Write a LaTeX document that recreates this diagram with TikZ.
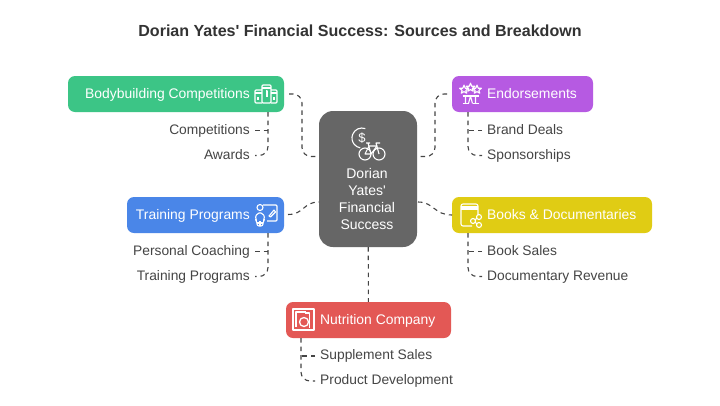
\documentclass[tikz,border=0pt]{standalone}
\usepackage{fontspec}
\setmainfont{Liberation Sans}[Ligatures=TeXOff]
\usetikzlibrary{positioning}
\definecolor{hubgray}{HTML}{666666}
\definecolor{leafgray}{HTML}{454545}
\definecolor{compgreen}{HTML}{3CC586}
\definecolor{endorsepurple}{HTML}{B65AE2}
\definecolor{trainblue}{HTML}{4A86E8}
\definecolor{bookyellow}{HTML}{E0CC14}
\definecolor{nutritionred}{HTML}{E35855}
\tikzset {
  % central node
  hub/.style = {
    fill = hubgray,
    rounded corners = 14pt,
    minimum width = 98pt,
    minimum height = 136pt,
    inner sep = 0pt
  },
  % coloured boxes around the hub
  branch/.style = {
    rounded corners = 7pt,
    minimum height = 36pt,
    inner sep = 0pt
  },
  boxtext/.style = {
    text = white,
    font = \fontsize{13.9}{17}\selectfont,
    text height = 10pt,
    text depth = 3pt,
    inner sep = 0pt
  },
  % small labels under a box
  leaf/.style = {
    text = leafgray,
    font = \fontsize{13.8}{16}\selectfont,
    text height = 10pt,
    text depth = 3pt,
    inner xsep = 5pt,
    inner ysep = 0pt
  },
  link/.style = {
    draw = leafgray,
    line width = 1.1pt,
    dash pattern = on 4.5pt off 4pt,
    rounded corners = 9pt
  },
  icon/.style = {
    draw = white,
    line width = 1.1pt,
    line join = round
  }
}
\tikzset {
  podium/.pic = {
    \draw[icon, rounded corners = 1pt] (-4,9) -- (-4,-9) -- (5,-9) -- (5,9) -- cycle;
    \draw[icon, rounded corners = 1pt] (-4,-4) -- (-11,-4) -- (-11,9) -- (-4,9);
    \draw[icon, rounded corners = 1pt] (5,-4) -- (11,-4) -- (11,9) -- (5,9);
    \draw[icon] (-4,-6) -- (5,-6) (-11,-1) -- (-4,-1) (5,-1) -- (11,-1);
    \draw[icon] (0,-3) -- (1,-3) -- (1,3) (-8,3) -- (-8,6) (8,3) -- (8,6);
  },
  stars/.pic = {
    \foreach \sx/\sy in {-6.5/-4.5, 0/-6.5, 6.5/-4.5} {
      \draw[icon, shift = {(\sx,\sy)}, scale = 1.25] (0,-3.5) -- (1,-1) -- (3.5,-1) -- (1.5,.7) -- (2.2,3)
        -- (0,1.7) -- (-2.2,3) -- (-1.5,.7) -- (-3.5,-1) -- (-1,-1) -- cycle;
    }
    \draw[icon] (-8,2) -- (8,2) (-8,9.5) -- (-2,9.5) (2,9.5) -- (8,9.5);
    \draw[icon] (-5,2) -- (-5,9.5) (5,2) -- (5,9.5) (0,2) -- (-2,9.5) (0,2) -- (2,9.5);
  },
  coach/.pic = {
    \draw[icon, rounded corners = 1pt] (-3,-10) -- (11,-10) -- (11,6) -- (1,6);
    \draw[icon] (3,1) -- (8,-5) -- (9.5,-3) -- (4.5,2) -- cycle;
    \draw[icon] (-6,-7.5) circle (3pt);
    \draw[icon, rounded corners = 2pt] (-11,4) -- (-9,-2) -- (-3,-2) -- (-1,4) -- (-3,6) -- (-3,11) -- (-9,11) -- (-9,6) -- cycle;
    \draw[icon] (-6,6) -- (-6,11) (-9,8) -- (-3,8);
  },
  bookshare/.pic = {
    \draw[icon, rounded corners = 2pt] (2,11) -- (-9,11) -- (-9,-11) -- (8,-11) -- (8,0);
    \draw[icon] (-9,-8) -- (8,-8) (-9,-6) -- (8,-6);
    \draw[icon] (3,6) circle (2.5pt) (9,2) circle (2.5pt) (9,10) circle (2.5pt);
    \draw[icon] (5,4.7) -- (7,3.3) (5,7.3) -- (7,8.7);
  },
  dbox/.pic = {
    \draw[icon] (-10.5,-10.5) rectangle (10.5,10.5);
    \draw[icon] (-7.5,7.5) -- (-7.5,-7.5) -- (2,-7.5);
    \draw[icon, line width = 1.3pt] (.5,2.5) circle (4.5pt);
    \draw[icon, line width = 1.3pt] (6,8) -- (6,-6.5) -- (1.5,-6.5);
  },
  moneybike/.pic = {
    \draw[icon] (3.4,-9.4) arc (-70:-260:10);
    \node[text = white, font = \fontsize{13}{13}\selectfont, inner sep = 0pt] (dollar) at (0,0) {\$};
    \draw[icon] (3,16) circle (6pt) (17,16) circle (6pt);
    \draw[icon] (3,16) -- (7,8) -- (15,8) -- (9,16) -- cycle (9,16) -- (6,5) (4,5) -- (8,5);
    \draw[icon] (17,16) -- (14,5) -- (18,5);
  }
}
\begin{document}
\begin{tikzpicture}[x=1pt, y=-1pt]
  \useasboundingbox[fill=white] (0,0) rectangle (720,405);

  \node[font = \fontsize{16.05}{20}\selectfont\bfseries, text = black!80, inner sep = 0pt] (title) at (360,31)
    {Dorian Yates' Financial Success: Sources and Breakdown};

  \node[hub] (hub) at (368,179) {};
  \node[align = center, text = white, inner sep = 0pt, font = \fontsize{14}{16.7}\selectfont] (hub-text) at (367,199)
    {Dorian\\Yates'\\Financial\\Success};

  \node[branch, fill = compgreen, minimum width = 216pt] (bodybuilding) at (176,94) {};
  \node[branch, fill = endorsepurple, minimum width = 141pt] (endorsements) at (522.5,94) {};
  \node[branch, fill = trainblue, minimum width = 157pt] (training) at (205.5,215) {};
  \node[branch, fill = bookyellow, minimum width = 200pt] (books) at (552,215) {};
  \node[branch, fill = nutritionred, minimum width = 165pt] (nutrition) at (368.5,320) {};

  \node[boxtext, anchor = east] (bodybuilding-text) at (250,95) {Bodybuilding Competitions};
  \node[boxtext, anchor = west] (endorsements-text) at (487,95) {Endorsements};
  \node[boxtext, anchor = east] (training-text) at (250,216) {Training Programs};
  \node[boxtext, anchor = west] (books-text) at (487,216) {Books \& Documentaries};
  \node[boxtext, anchor = west] (nutrition-text) at (320,321) {Nutrition Company};

  \pic at (266,94) {podium};
  \pic at (470.5,94) {stars};
  \pic at (266,215) {coach};
  \pic at (470,215) {bookshare};
  \pic at (303.5,319.5) {dbox};
  \pic at (362,138) {moneybike};

  \node[leaf, anchor = east] (competitions) at (255,130.5) {Competitions};
  \node[leaf, anchor = east] (awards) [below=25pt of competitions.east, anchor = east] {Awards};
  \node[leaf, anchor = west] (brand) at (482,130.5) {Brand Deals};
  \node[leaf, anchor = west] (sponsorships) [below=25pt of brand.west, anchor = west] {Sponsorships};
  \node[leaf, anchor = east] (coaching) at (255,251.5) {Personal Coaching};
  \node[leaf, anchor = east] (programs) [below=25pt of coaching.east, anchor = east] {Training Programs};
  \node[leaf, anchor = west] (book-sales) at (482,251.5) {Book Sales};
  \node[leaf, anchor = west] (documentary) [below=25pt of book-sales.west, anchor = west] {Documentary Revenue};
  \node[leaf, anchor = west] (supplement) at (315,356) {Supplement Sales};
  \node[leaf, anchor = west] (product) [below=25pt of supplement.west, anchor = west] {Product Development};

  \coordinate (bodybuilding-out) at (289,94);
  \coordinate (endorsements-out) at (447,94);
  \coordinate (training-out) at (288,214.5);
  \coordinate (books-out) at (452,215);
  \coordinate (bodybuilding-bend) at (302,125);
  \coordinate (endorsements-bend) at (435,125);
  \coordinate (hub-left-top) at (319,156.5);
  \coordinate (hub-right-top) at (418,156.5);
  \coordinate (hub-left-low) at (319,202);
  \coordinate (hub-right-low) at (418,202);
  \coordinate (bodybuilding-trunk) at (268,112);
  \coordinate (endorsements-trunk) at (468,112);
  \coordinate (training-trunk) at (268,233);
  \coordinate (books-trunk) at (468,233);
  \coordinate (nutrition-trunk) at (301,338);

  % hub to boxes
  \draw[link] (bodybuilding-out) -| (bodybuilding-bend) |- (hub-left-top);
  \draw[link] (endorsements-out) -| (endorsements-bend) |- (hub-right-top);
  \draw[link] (training-out) .. controls (304,214.5) and (303,202) .. (hub-left-low);
  \draw[link] (hub-right-low) .. controls (434,202) and (434,215) .. (books-out);
  \draw[link] (hub) -- (nutrition);

  % boxes to labels
  \draw[link] (bodybuilding-trunk) |- (awards);
  \draw[link] (competitions) -- (competitions -| bodybuilding-trunk);
  \draw[link] (endorsements-trunk) |- (sponsorships);
  \draw[link] (brand) -- (brand -| endorsements-trunk);
  \draw[link] (training-trunk) |- (programs);
  \draw[link] (coaching) -- (coaching -| training-trunk);
  \draw[link] (books-trunk) |- (documentary);
  \draw[link] (book-sales) -- (book-sales -| books-trunk);
  \draw[link] (nutrition-trunk) |- (product);
  \draw[link] (supplement) -- (supplement -| nutrition-trunk);
\end{tikzpicture}
\end{document}
